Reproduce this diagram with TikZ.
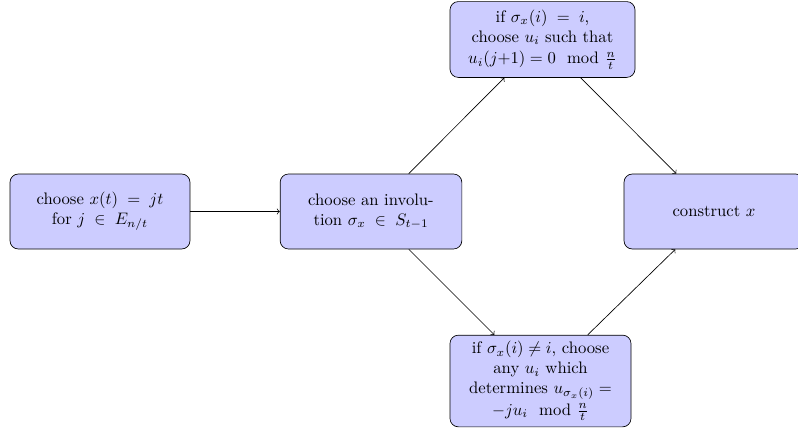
\documentclass[tikz,border=0pt]{standalone}
\usepackage{amsmath}
\usetikzlibrary{arrows}
\begin{document}
\begin{tikzpicture}[x=0.6pt,y=-0.6pt,
  block/.style={rectangle, draw=black, fill=blue!20, align=center,
    rounded corners=5pt, minimum width=108pt, minimum height=45pt, inner sep=3pt},
  conn/.style={draw=black, line width=0.4pt, -to}]
\useasboundingbox (0,0) rectangle (798,435);
\node[block] (b1) at (100,211.5) {choose $x(t) \;=\; jt$\\ for $j \;\in\; E_{n/t}$};
\node[block, minimum width=109pt] (b2) at (371,211.5) {choose an involu-\\ tion $\sigma_x \;\in\; S_{t-1}$};
\node[block, minimum width=111pt, minimum height=45.5pt] (b3) at (542.5,39.5) {if $\sigma_x(i) \;=\; i$,\\ choose $u_i$ such that\\[1pt] $u_i(j{+}1) = 0 \mod \frac{n}{t}$};
\node[block, minimum width=108.6pt, minimum height=55pt] (b4) at (540.5,381) {if $\sigma_x(i) \neq i$, choose\\ any $u_i$ which\\ determines $u_{\sigma_x(i)} =$\\[1pt] $-ju_i \mod \frac{n}{t}$};
\node[block] (b5) at (714,211.5) {construct $x$};
\draw[conn] (b1) -- (b2);
\draw[conn] (b2) -- (b3);
\draw[conn] (b2) -- (b4);
\draw[conn] (b3) -- (b5);
\draw[conn] (b4) -- (b5);
\end{tikzpicture}
\end{document}
